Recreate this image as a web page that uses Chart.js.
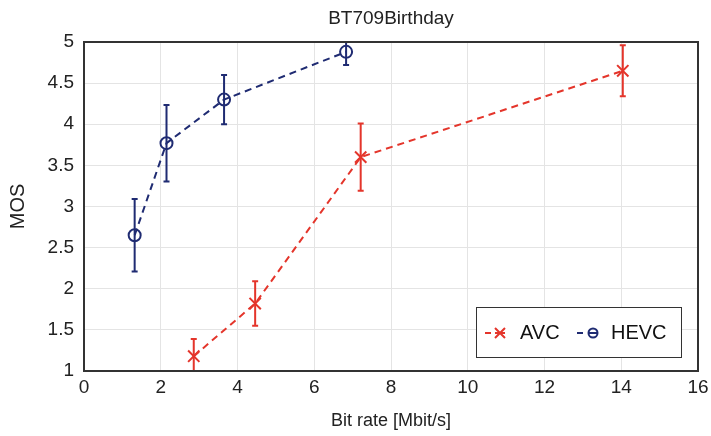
<!DOCTYPE html>
<head>
    <title>BT709Birthday</title>
    <script src="https://cdn.jsdelivr.net/npm/chart.js"></script>
    <style>
        body { margin: 0; background: #fff; }
        #wrap { width: 711px; height: 436px; }
    </style>
</head>
<body>
    <div id="wrap"><canvas id="mosChart" width="711" height="436"></canvas></div>
</body>
<script>
// values
const avcRate = [2.86, 4.46, 7.21, 14.04];
const avcMos = [1.18, 1.82, 3.60, 4.65];
const avcErr = [0.21, 0.27, 0.41, 0.31];

const hevcRate = [1.32, 2.15, 3.65, 6.83];
const hevcMos = [2.65, 3.77, 4.30, 4.88];
const hevcErr = [0.44, 0.465, 0.30, 0.16];

const xTicks = [0, 2, 4, 6, 8, 10, 12, 14, 16];
const yTicks = [1, 1.5, 2, 2.5, 3, 3.5, 4, 4.5, 5];

const chartTitle = 'BT709Birthday';
const RED = '#e4352b';
const BLUE = '#1f2b72';
const FONT = 'Liberation Sans, Arial, sans-serif';

function toPoints(xs, ys, errs) {
    return xs.map((x, i) => ({ x: x, y: ys[i], err: errs[i] }));
}

// error bars + frame + title + legend, placed with the chart's scales
const extras = {
    id: 'extras',
    afterDatasetsDraw(chart) {
        const ctx = chart.ctx;
        const xs = chart.scales.x, ys = chart.scales.y;
        const area = chart.chartArea;
        ctx.save();
        ctx.beginPath();
        ctx.rect(area.left, area.top, area.right - area.left, area.bottom - area.top);
        ctx.clip();
        chart.data.datasets.forEach(ds => {
            ctx.strokeStyle = ds.borderColor;
            ctx.lineWidth = 2;
            ds.data.forEach(p => {
                const px = xs.getPixelForValue(p.x);
                const top = ys.getPixelForValue(p.y + p.err);
                const bot = ys.getPixelForValue(p.y - p.err);
                ctx.beginPath();
                ctx.moveTo(px, top); ctx.lineTo(px, bot);
                ctx.moveTo(px - 3, top); ctx.lineTo(px + 3, top);
                ctx.moveTo(px - 3, bot); ctx.lineTo(px + 3, bot);
                ctx.stroke();
            });
        });
        ctx.restore();
    },
    afterDraw(chart) {
        const ctx = chart.ctx;
        const a = chart.chartArea;
        ctx.save();
        // frame
        ctx.strokeStyle = '#333';
        ctx.lineWidth = 2;
        ctx.strokeRect(a.left, a.top, a.right - a.left, a.bottom - a.top);

        // title over the plot area
        ctx.fillStyle = '#222';
        ctx.font = '19px ' + FONT;
        ctx.textAlign = 'center';
        ctx.textBaseline = 'middle';
        ctx.fillText(chartTitle, (a.left + a.right) / 2, 19);

        // legend box
        const lx = 476, ly = 307, lw = 205, lh = 50;
        ctx.fillStyle = '#fff';
        ctx.fillRect(lx, ly, lw, lh);
        ctx.strokeStyle = '#333';
        ctx.lineWidth = 1;
        ctx.strokeRect(lx + 0.5, ly + 0.5, lw, lh);
        const cy = ly + lh / 2 + 1;

        // AVC entry
        ctx.strokeStyle = RED;
        ctx.lineWidth = 2;
        ctx.beginPath();
        ctx.moveTo(485, cy); ctx.lineTo(491, cy);
        ctx.moveTo(495, cy - 5); ctx.lineTo(505, cy + 5);
        ctx.moveTo(505, cy - 5); ctx.lineTo(495, cy + 5);
        ctx.moveTo(495, cy); ctx.lineTo(505, cy);
        ctx.stroke();

        // HEVC entry
        ctx.strokeStyle = BLUE;
        ctx.beginPath();
        ctx.moveTo(577, cy); ctx.lineTo(583, cy);
        ctx.stroke();
        ctx.beginPath();
        ctx.arc(593, cy, 4.5, 0, Math.PI * 2);
        ctx.moveTo(588, cy); ctx.lineTo(598, cy);
        ctx.stroke();

        ctx.fillStyle = '#111';
        ctx.font = '20px ' + FONT;
        ctx.textAlign = 'left';
        ctx.fillText('AVC', 520, cy);
        ctx.fillText('HEVC', 611, cy);
        ctx.restore();
    }
};

const ctx = document.getElementById('mosChart').getContext('2d');
const chart = new Chart(ctx, {
    type: 'scatter',
    data: {
        datasets: [{
            label: 'AVC',
            data: toPoints(avcRate, avcMos, avcErr),
            showLine: true,
            borderColor: RED,
            backgroundColor: RED,
            borderWidth: 2,
            borderDash: [7, 5],
            pointStyle: 'crossRot',
            pointRadius: 8,
            pointBorderWidth: 2,
            pointBorderColor: RED
        }, {
            label: 'HEVC',
            data: toPoints(hevcRate, hevcMos, hevcErr),
            showLine: true,
            borderColor: BLUE,
            backgroundColor: 'rgba(0,0,0,0)',
            borderWidth: 2,
            borderDash: [7, 5],
            pointStyle: 'circle',
            pointRadius: 6,
            pointBorderWidth: 2,
            pointBorderColor: BLUE
        }]
    },
    options: {
        responsive: false,
        animation: false,
        layout: { padding: { left: 0, right: 13, top: 42, bottom: 0 } },
        plugins: {
            legend: { display: false },
            tooltip: { enabled: false },
            title: { display: false }
        },
        scales: {
            x: {
                type: 'linear',
                min: 0,
                max: 16,
                afterBuildTicks: s => { s.ticks = xTicks.map(v => ({ value: v })); },
                afterFit: s => { s.height = 65; s.paddingRight = 0; s.paddingLeft = 0; },
                grid: { color: '#e4e4e4', lineWidth: 1, drawTicks: false },
                border: { display: false },
                ticks: { color: '#222', padding: 5, font: { family: FONT, size: 19 } },
                title: { display: true, text: 'Bit rate [Mbit/s]', color: '#222', padding: { top: 6 },
                         font: { family: FONT, size: 18 } }
            },
            y: {
                type: 'linear',
                min: 1,
                max: 5,
                afterBuildTicks: s => { s.ticks = yTicks.map(v => ({ value: v })); },
                afterFit: s => { s.width = 84; s.paddingTop = 0; s.paddingBottom = 0; },
                grid: { color: '#e4e4e4', lineWidth: 1, drawTicks: false },
                border: { display: false },
                ticks: { color: '#222', padding: 10, font: { family: FONT, size: 19 },
                         callback: v => String(v) },
                title: { display: true, text: 'MOS', color: '#222', padding: { top: 6, bottom: 4 },
                         font: { family: FONT, size: 20 } }
            }
        }
    },
    plugins: [extras]
});
</script>
</html>
